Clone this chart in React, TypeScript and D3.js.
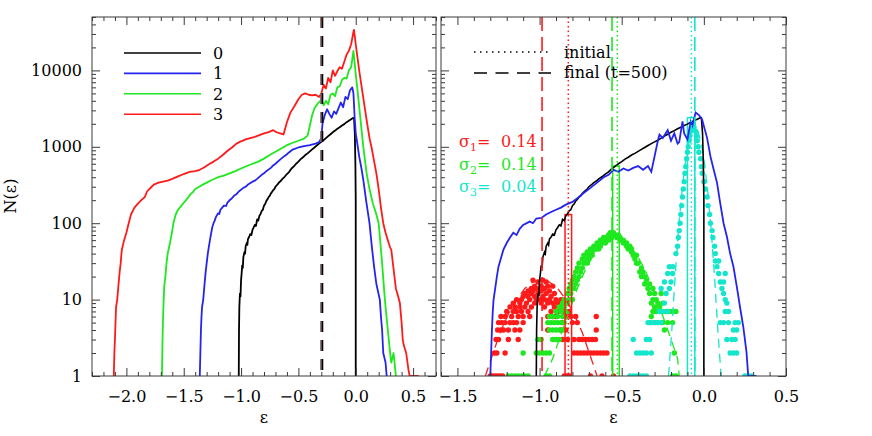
import React, { useEffect, useRef } from 'react';
import * as d3 from 'd3';

type Pt = [number, number];
type Row = [number, number[]];

// left panel: N(eps) for the four groups
const groupLabels = ['0', '1', '2', '3'];
const groupColors = ['#000000', '#2424f0', '#1ee81e', '#ff1a1a'];

const curve0: Pt[] = [
  [-1.02, 1], [-1.018, 4], [-1.015, 8], [-1.01, 12], [-1.005, 11], [-1.0, 18], [-0.995, 22], [-0.99, 28],
  [-0.985, 26], [-0.98, 36], [-0.97, 42], [-0.965, 40], [-0.96, 50], [-0.95, 55], [-0.945, 52], [-0.94, 62],
  [-0.93, 66], [-0.92, 72], [-0.91, 70], [-0.9, 82], [-0.89, 88], [-0.88, 95], [-0.87, 92], [-0.86, 112],
  [-0.85, 108], [-0.84, 125], [-0.83, 132], [-0.82, 145], [-0.81, 150], [-0.8, 170], [-0.79, 178], [-0.78, 195],
  [-0.77, 205], [-0.76, 220], [-0.75, 228], [-0.74, 245], [-0.72, 270], [-0.71, 280], [-0.7, 300], [-0.68, 325],
  [-0.67, 340], [-0.65, 362], [-0.64, 380], [-0.62, 405], [-0.6, 440], [-0.58, 470], [-0.56, 520], [-0.54, 555],
  [-0.52, 600], [-0.5, 640], [-0.48, 690], [-0.46, 730], [-0.44, 780], [-0.42, 820], [-0.4, 870], [-0.38, 925],
  [-0.36, 980], [-0.34, 1040], [-0.32, 1100], [-0.3, 1160], [-0.28, 1220], [-0.26, 1300], [-0.24, 1380],
  [-0.22, 1460], [-0.2, 1550], [-0.18, 1630], [-0.16, 1720], [-0.14, 1800], [-0.12, 1900], [-0.1, 1980],
  [-0.08, 2100], [-0.06, 2200], [-0.04, 2300], [-0.025, 2380], [-0.015, 2400], [-0.008, 1500], [-0.003, 600],
  [0.0, 200], [0.0, 1],
];

const curve1: Pt[] = [
  [-1.36, 1], [-1.355, 2], [-1.35, 4], [-1.345, 6], [-1.34, 8], [-1.33, 10], [-1.32, 15], [-1.31, 22], [-1.3, 30],
  [-1.29, 40], [-1.28, 50], [-1.27, 62], [-1.26, 75], [-1.25, 90], [-1.24, 100], [-1.23, 108], [-1.22, 120],
  [-1.2, 135], [-1.19, 132], [-1.18, 150], [-1.15, 170], [-1.13, 168], [-1.12, 185], [-1.1, 200], [-1.08, 212],
  [-1.06, 230], [-1.04, 240], [-1.02, 260], [-0.98, 290], [-0.96, 300], [-0.94, 320], [-0.9, 350], [-0.88, 360],
  [-0.86, 380], [-0.82, 430], [-0.8, 450], [-0.78, 480], [-0.74, 530], [-0.72, 570], [-0.7, 600], [-0.66, 680],
  [-0.62, 760], [-0.6, 800], [-0.58, 850], [-0.55, 920], [-0.5, 980], [-0.45, 1020], [-0.4, 1050], [-0.35, 1100],
  [-0.32, 1150], [-0.3, 1300], [-0.29, 2000], [-0.27, 2600], [-0.25, 3100], [-0.23, 2700], [-0.21, 2400],
  [-0.19, 2900], [-0.17, 2700], [-0.15, 3200], [-0.13, 3800], [-0.11, 3300], [-0.09, 4500], [-0.07, 4200],
  [-0.05, 5500], [-0.03, 6000], [-0.02, 5000], [-0.01, 2500], [0.0, 1500], [0.01, 1200], [0.03, 750], [0.05, 520],
  [0.066, 370], [0.09, 200], [0.12, 100], [0.14, 50], [0.16, 27], [0.18, 16], [0.21, 10], [0.22, 6], [0.23, 4],
  [0.24, 2], [0.26, 1.5], [0.27, 1],
];

const curve2: Pt[] = [
  [-1.69, 1], [-1.685, 3], [-1.68, 6], [-1.675, 10], [-1.67, 15], [-1.66, 20], [-1.65, 30], [-1.64, 40],
  [-1.62, 55], [-1.6, 80], [-1.59, 100], [-1.57, 130], [-1.55, 150], [-1.52, 170], [-1.5, 185], [-1.48, 200],
  [-1.44, 240], [-1.42, 255], [-1.4, 280], [-1.35, 310], [-1.3, 340], [-1.25, 370], [-1.2, 400], [-1.15, 420],
  [-1.1, 450], [-1.05, 480], [-1.0, 520], [-0.95, 560], [-0.9, 600], [-0.85, 640], [-0.8, 700], [-0.75, 780],
  [-0.7, 860], [-0.65, 950], [-0.6, 1050], [-0.55, 1130], [-0.5, 1200], [-0.45, 1280], [-0.42, 1400],
  [-0.4, 1900], [-0.38, 2600], [-0.36, 3200], [-0.33, 3700], [-0.3, 4100], [-0.28, 3500], [-0.26, 4000],
  [-0.24, 3600], [-0.22, 4800], [-0.2, 5000], [-0.18, 4600], [-0.16, 6000], [-0.14, 6200], [-0.12, 7500],
  [-0.1, 8000], [-0.08, 7800], [-0.06, 10000], [-0.04, 11000], [-0.03, 14000], [-0.02, 18000], [0.0, 9000],
  [0.02, 4700], [0.04, 2400], [0.066, 1000], [0.095, 450], [0.12, 280], [0.15, 180], [0.18, 130], [0.2, 100],
  [0.22, 45], [0.23, 30], [0.25, 12], [0.26, 8], [0.28, 4], [0.3, 2], [0.31, 1.5], [0.33, 2], [0.35, 1],
];

const curve3: Pt[] = [
  [-2.11, 1], [-2.105, 2], [-2.1, 3], [-2.095, 5], [-2.09, 8], [-2.08, 10], [-2.07, 15], [-2.06, 22], [-2.05, 30],
  [-2.04, 45], [-2.02, 60], [-2.0, 75], [-1.98, 100], [-1.96, 130], [-1.93, 160], [-1.9, 180], [-1.87, 200],
  [-1.84, 220], [-1.82, 260], [-1.8, 280], [-1.78, 300], [-1.76, 320], [-1.72, 340], [-1.68, 350], [-1.64, 360],
  [-1.6, 380], [-1.55, 410], [-1.5, 440], [-1.45, 470], [-1.4, 480], [-1.36, 500], [-1.32, 540], [-1.28, 590],
  [-1.24, 640], [-1.2, 700], [-1.16, 780], [-1.12, 880], [-1.08, 980], [-1.04, 1100], [-1.0, 1180], [-0.96, 1250],
  [-0.92, 1300], [-0.88, 1350], [-0.84, 1420], [-0.8, 1500], [-0.76, 1560], [-0.72, 1650], [-0.69, 1550],
  [-0.66, 1500], [-0.63, 1450], [-0.6, 2100], [-0.57, 2800], [-0.54, 3300], [-0.5, 4200], [-0.47, 4800],
  [-0.44, 5000], [-0.41, 4800], [-0.38, 4700], [-0.35, 4800], [-0.32, 4500], [-0.3, 5000], [-0.28, 6500],
  [-0.26, 5800], [-0.24, 8000], [-0.22, 7000], [-0.2, 10000], [-0.18, 8500], [-0.16, 9800], [-0.14, 11000],
  [-0.12, 10500], [-0.1, 13000], [-0.08, 16000], [-0.06, 18000], [-0.04, 22000], [-0.02, 32000],
  [-0.015, 34000], [0.0, 22000], [0.03, 10000], [0.06, 5000], [0.09, 2500], [0.12, 1300], [0.14, 950],
  [0.16, 650], [0.18, 450], [0.2, 280], [0.22, 160], [0.24, 100], [0.26, 75], [0.28, 60], [0.3, 48], [0.31, 45],
  [0.33, 25], [0.35, 14], [0.37, 11], [0.385, 9], [0.4, 5], [0.41, 3], [0.42, 2.5], [0.44, 2], [0.46, 1.2],
  [0.47, 1], [0.55, 1],
];

// final-mean markers in the left panel: [eps, colour index]
const leftFinal: Pt[] = [[-0.304, 3], [-0.299, 2], [-0.294, 1], [-0.289, 0]];

// right panel
const rightBlue: Pt[] = [
  [-1.3, 1], [-1.295, 2], [-1.29, 4], [-1.285, 7], [-1.28, 10], [-1.27, 14], [-1.26, 20], [-1.25, 27], [-1.24, 32],
  [-1.22, 45], [-1.2, 55], [-1.18, 65], [-1.16, 75], [-1.14, 70], [-1.12, 85], [-1.1, 95], [-1.06, 105],
  [-1.04, 100], [-1.02, 115], [-0.99, 117], [-0.96, 130], [-0.93, 140], [-0.9, 150], [-0.87, 160], [-0.84, 175],
  [-0.8, 190], [-0.76, 220], [-0.73, 250], [-0.69, 290], [-0.65, 340], [-0.61, 400], [-0.58, 430], [-0.55, 500],
  [-0.52, 470], [-0.49, 520], [-0.46, 490], [-0.43, 530], [-0.4, 560], [-0.37, 500], [-0.34, 560], [-0.32, 470],
  [-0.3, 750], [-0.28, 1200], [-0.27, 1450], [-0.25, 1300], [-0.22, 1650], [-0.2, 1200], [-0.18, 1500],
  [-0.16, 1100], [-0.15, 1150], [-0.13, 2150], [-0.12, 1500], [-0.1, 1250], [-0.08, 2150], [-0.07, 1900],
  [-0.05, 2800], [-0.03, 2600], [-0.01, 2250], [0.02, 1300], [0.04, 750], [0.06, 500], [0.08, 340], [0.1, 180],
  [0.12, 100], [0.14, 67], [0.16, 40], [0.18, 27], [0.2, 15], [0.21, 11], [0.22, 8], [0.24, 4.4], [0.25, 3],
  [0.26, 2], [0.27, 1], [0.32, 1],
];

const sigmaColors = ['#ff1a1a', '#1ee81e', '#14e6cc'];
const sigmaValues = ['0.14', '0.14', '0.04'];
const initialMeans = [-0.825, -0.527, -0.076];
const finalMeans = [-0.985, -0.559, -0.055];
// initial narrow histograms: [left edge, right edge, height]
const initialBoxes: [number, number, number][] = [[-0.845, -0.805, 130], [-0.555, -0.515, 560], [-0.1, -0.055, 2400]];

const redFit: Pt[] = [
  [-1.33, 1], [-1.29, 1.8], [-1.24, 3.7], [-1.19, 6.5], [-1.14, 10], [-1.09, 14], [-1.04, 17], [-0.99, 18],
  [-0.94, 17], [-0.89, 14], [-0.84, 10], [-0.79, 6.5], [-0.74, 3.7], [-0.69, 1.8], [-0.65, 1],
];
const greenFit: Pt[] = [
  [-0.97, 1], [-0.92, 1.7], [-0.87, 3.5], [-0.82, 7], [-0.77, 14], [-0.72, 25], [-0.67, 39], [-0.62, 54],
  [-0.58, 66], [-0.56, 70], [-0.51, 66], [-0.46, 54], [-0.41, 39], [-0.36, 25], [-0.31, 14], [-0.26, 7],
  [-0.21, 3.5], [-0.16, 1.7], [-0.15, 1],
];
const cyanFit: Pt[] = [
  [-0.215, 1], [-0.195, 4], [-0.175, 20], [-0.155, 79], [-0.135, 240], [-0.115, 585], [-0.095, 1090],
  [-0.075, 1580], [-0.055, 1800], [-0.035, 1580], [-0.015, 1090], [0.005, 585], [0.025, 240], [0.045, 79],
  [0.065, 20], [0.085, 4], [0.105, 1],
];

// final histograms drawn as dots: [count, eps values]
const redDots: Row[] = [
  [1, [-1.3, -1.285, -1.27, -1.255, -1.24, -1.225, -0.85, -0.835, -0.82, -0.69, -0.62, -0.55]],
  [2, [-1.275, -1.26, -1.21, -0.79, -0.77, -0.75, -0.73, -0.71, -0.69, -0.67, -0.65, -0.63, -0.61, -0.59]],
  [3, [-1.265, -1.25, -1.19, -1.13, -0.86, -0.83, -0.79, -0.76, -0.74, -0.72, -0.7, -0.68, -0.66]],
  [4, [-1.255, -1.235, -1.22, -1.19, -1.15, -1.12, -0.95, -0.87, -0.84, -0.655]],
  [5, [-1.25, -1.23, -1.21, -1.18, -1.16, -1.14, -1.1, -0.86, -0.8, -0.77]],
  [6, [-1.235, -1.21, -1.17, -1.13, -1.1, -1.06, -0.95, -0.92, -0.9, -0.84, -0.81, -0.78, -0.655]],
  [7, [-1.2, -1.16, -1.14, -1.11, -1.07, -0.93, -0.88, -0.85, -0.82]],
  [8, [-1.18, -1.15, -1.12, -1.09, -1.05, -0.97, -0.91, -0.87]],
  [9, [-1.16, -1.12, -1.08, -1.03, -0.99, -0.95, -0.92, -0.89]],
  [10, [-1.14, -1.11, -1.06, -1.02, -1.0, -0.97, -0.94, -0.9, -0.87, -0.85]],
  [11, [-1.1, -1.07, -1.03, -0.98, -0.93]],
  [12, [-1.09, -1.05, -1.01, -0.96, -0.91]],
  [13, [-1.07, -1.04, -0.99, -0.94]],
  [14, [-1.05, -1.02, -0.97]],
  [15, [-1.03, -0.99, -0.95, -0.92]],
  [17, [-1.01, -0.96]],
  [18, [-1.04, -0.98]],
];
const greenDots: Row[] = [
  [1, [-1.19, -1.17, -1.15, -1.13, -1.11, -1.09, -1.07, -0.96, -0.94, -0.19, -0.17]],
  [2, [-1.1, -1.02, -1.0, -0.98, -0.96, -0.94, -0.18]],
  [3, [-1.01, -0.99, -0.92, -0.9, -0.88]],
  [4, [-0.94, -0.92, -0.9, -0.88, -0.86, -0.24]],
  [5, [-0.95, -0.93, -0.91, -0.89, -0.87, -0.85, -0.33, -0.3, -0.28, -0.25, -0.22, -0.19]],
  [6, [-0.94, -0.92, -0.89, -0.86, -0.32]],
  [7, [-0.9, -0.87, -0.84, -0.31, -0.29, -0.26, -0.23, -0.21, -0.19, -0.17]],
  [8, [-0.88, -0.85, -0.3, -0.27]],
  [9, [-0.86, -0.83, -0.32, -0.28, -0.25]],
  [10, [-0.85, -0.82, -0.8, -0.31, -0.29]],
  [12, [-0.83, -0.81, -0.33, -0.3, -0.26]],
  [14, [-0.82, -0.79, -0.34, -0.31]],
  [16, [-0.81, -0.78, -0.36, -0.33]],
  [18, [-0.8, -0.77, -0.35]],
  [20, [-0.79, -0.76, -0.38, -0.36]],
  [23, [-0.78, -0.75, -0.39, -0.37]],
  [26, [-0.77, -0.74, -0.38]],
  [30, [-0.76, -0.73, -0.71, -0.41, -0.4]],
  [34, [-0.74, -0.72, -0.7, -0.42]],
  [38, [-0.73, -0.7, -0.68, -0.43, -0.41]],
  [42, [-0.71, -0.68, -0.44]],
  [46, [-0.69, -0.66, -0.64, -0.46, -0.44]],
  [50, [-0.67, -0.65, -0.63, -0.47, -0.45]],
  [55, [-0.65, -0.62, -0.6, -0.49, -0.47]],
  [60, [-0.63, -0.61, -0.58, -0.51, -0.49]],
  [65, [-0.61, -0.59, -0.56, -0.53, -0.51]],
  [70, [-0.58, -0.56, -0.54, -0.52]],
  [75, [-0.57, -0.55]],
];
const cyanDots: Row[] = [
  [1, [-0.45, -0.43, -0.41, -0.39, -0.37, -0.35, 0.25, 0.27, 0.29]],
  [2, [-0.41, -0.39, -0.37, -0.35, -0.32, 0.16, 0.18, 0.2]],
  [3, [-0.43, -0.35, -0.33, 0.14, 0.17, 0.19]],
  [4, [0.18, 0.2]],
  [5, [-0.34, -0.32, -0.3, -0.28, -0.26, 0.1, 0.12, 0.15, 0.19, 0.21]],
  [7, [-0.27, -0.25, -0.22, 0.13, 0.15]],
  [9, [-0.24, 0.14]],
  [10, [0.13]],
  [12, [-0.23, 0.12]],
  [14, [-0.26, -0.21, 0.11]],
  [17, [-0.24, -0.2, 0.12, 0.1]],
  [22, [-0.22, -0.19, 0.09, 0.13]],
  [27, [-0.21, -0.19, 0.08]],
  [32, [0.09, 0.07]],
  [40, [-0.17, 0.07]],
  [50, [-0.16, 0.065]],
  [65, [-0.155, 0.055]],
  [80, [-0.15, 0.05]],
  [100, [-0.145, 0.04]],
  [130, [-0.14, 0.035]],
  [170, [-0.135, 0.025]],
  [220, [-0.13, 0.02]],
  [280, [-0.125, 0.01]],
  [350, [-0.12, 0.0]],
  [450, [-0.115, -0.01]],
  [550, [-0.11, -0.015]],
  [700, [-0.105, -0.02]],
  [850, [-0.1, -0.03]],
  [1000, [-0.095, -0.035]],
  [1200, [-0.09, -0.04]],
  [1400, [-0.085, -0.045]],
  [1600, [-0.08, -0.05]],
  [1800, [-0.075, -0.06]],
  [2000, [-0.07, -0.065]],
];

const leftXTicks = [-2.0, -1.5, -1.0, -0.5, 0.0, 0.5];
const rightXTicks = [-1.5, -1.0, -0.5, 0.0, 0.5];
const yTicks = [1, 10, 100, 1000, 10000];

const FONT = '"DejaVu Serif", serif';
const AXIS = '#3a3a3a';

const App = () => {
  const ref = useRef<SVGSVGElement>(null);

  useEffect(() => {
    const svg = d3.select(ref.current);
    svg.selectAll('*').remove();

    const y = d3.scaleLog().domain([1, 50000]).range([376, 17]);
    const xL = d3.scaleLinear().domain([-2.3, 0.7]).range([92, 436]);
    const xR = d3.scaleLinear().domain([-1.6, 0.5]).range([441, 786]);

    const yMinor: number[] = [];
    yTicks.forEach((p) => d3.range(2, 10).forEach((m) => { if (p * m <= 50000) yMinor.push(p * m); }));

    const drawFrame = (x: d3.ScaleLinear<number, number>, majors: number[], showY: boolean) => {
      const [xa, xb] = x.range();
      const [yb, ya] = y.range();
      const [d0, d1] = x.domain();
      const minors = d3.range(Math.round(d0 * 10), Math.round(d1 * 10) + 1)
        .map((i) => i / 10)
        .filter((v) => !majors.some((m) => Math.abs(m - v) < 1e-6));
      const g = svg.append('g');
      const put = (tr: string, ax: any) => {
        const a = g.append('g').attr('transform', tr).call(ax);
        a.selectAll('.domain').remove();
        a.selectAll('line').attr('stroke', AXIS);
        a.selectAll('text').attr('font-family', FONT).attr('font-size', 16).attr('fill', '#000');
        a.attr('font-family', null).attr('font-size', null);
      };
      put(`translate(0,${yb})`, d3.axisBottom(x).tickValues(majors).tickSizeInner(-8).tickSizeOuter(0).tickPadding(15).tickFormat(d3.format('.1f')));
      put(`translate(0,${yb})`, d3.axisBottom(x).tickValues(minors).tickSizeInner(-4).tickSizeOuter(0).tickFormat(() => ''));
      put(`translate(0,${ya})`, d3.axisTop(x).tickValues(majors).tickSizeInner(-8).tickSizeOuter(0).tickFormat(() => ''));
      put(`translate(0,${ya})`, d3.axisTop(x).tickValues(minors).tickSizeInner(-4).tickSizeOuter(0).tickFormat(() => ''));
      put(`translate(${xa},0)`, d3.axisLeft(y).tickValues(yTicks).tickSizeInner(-8).tickSizeOuter(0).tickPadding(10)
        .tickFormat(showY ? (d3.format('d') as any) : () => ''));
      put(`translate(${xa},0)`, d3.axisLeft(y).tickValues(yMinor).tickSizeInner(-4).tickSizeOuter(0).tickFormat(() => ''));
      put(`translate(${xb},0)`, d3.axisRight(y).tickValues(yTicks).tickSizeInner(-8).tickSizeOuter(0).tickFormat(() => ''));
      put(`translate(${xb},0)`, d3.axisRight(y).tickValues(yMinor).tickSizeInner(-4).tickSizeOuter(0).tickFormat(() => ''));
      g.append('rect').attr('x', xa).attr('y', ya).attr('width', xb - xa).attr('height', yb - ya)
        .attr('fill', 'none').attr('stroke', AXIS).attr('stroke-width', 1);
      svg.append('text').attr('x', (xa + xb) / 2).attr('y', 423).attr('text-anchor', 'middle')
        .attr('font-family', FONT).attr('font-size', 16).text('ε');
    };

    const defs = svg.append('defs');
    const clip = (id: string, x: d3.ScaleLinear<number, number>) => {
      const [xa, xb] = x.range();
      defs.append('clipPath').attr('id', id).append('rect')
        .attr('x', xa).attr('y', 17).attr('width', xb - xa).attr('height', 359);
      return svg.append('g').attr('clip-path', `url(#${id})`);
    };

    // ---- left panel ----
    const gl = clip('clipL', xL);
    const lineL = d3.line<Pt>().x((d) => xL(d[0])).y((d) => y(d[1]));
    [curve0, curve1, curve2, curve3].forEach((c, i) => {
      gl.append('path').attr('d', lineL(c)).attr('fill', 'none')
        .attr('stroke', groupColors[i]).attr('stroke-width', 1.8).attr('stroke-linejoin', 'round');
    });
    leftFinal.forEach(([e, ci]) => {
      gl.append('line').attr('x1', xL(e)).attr('x2', xL(e)).attr('y1', 17).attr('y2', 376)
        .attr('stroke', groupColors[ci]).attr('stroke-width', 1.4).attr('stroke-dasharray', '11,8');
    });
    drawFrame(xL, leftXTicks, true);

    groupLabels.forEach((lab, i) => {
      const ly = 53 + i * 20.4;
      svg.append('line').attr('x1', 124).attr('x2', 201).attr('y1', ly).attr('y2', ly)
        .attr('stroke', groupColors[i]).attr('stroke-width', 1.6);
      svg.append('text').attr('x', 213).attr('y', ly + 6).attr('font-family', FONT).attr('font-size', 16).text(lab);
    });

    svg.append('text').attr('transform', 'translate(16,196) rotate(-90)').attr('text-anchor', 'middle')
      .attr('font-family', FONT).attr('font-size', 16).text('N(ε)');

    // ---- right panel ----
    const gr = clip('clipR', xR);
    const lineR = d3.line<Pt>().x((d) => xR(d[0])).y((d) => y(d[1]));
    [redDots, greenDots, cyanDots].forEach((rows, i) => {
      rows.forEach(([n, es]) => es.forEach((e) => {
        gr.append('circle').attr('cx', xR(e)).attr('cy', y(n)).attr('r', 2.7).attr('fill', sigmaColors[i]);
      }));
    });
    [redFit, greenFit, cyanFit].forEach((c, i) => {
      gr.append('path').attr('d', lineR(c)).attr('fill', 'none').attr('stroke', sigmaColors[i])
        .attr('stroke-width', 1.3).attr('stroke-dasharray', '9,6');
    });
    initialBoxes.forEach(([a, b, h], i) => {
      const pts: Pt[] = [[a, 1], [a, h], [b, h], [b, 1]];
      gr.append('path').attr('d', lineR(pts)).attr('fill', 'none').attr('stroke', sigmaColors[i]).attr('stroke-width', 1.5);
    });
    gr.append('path').attr('d', lineR(curve0)).attr('fill', 'none').attr('stroke', '#000').attr('stroke-width', 1.6);
    gr.append('path').attr('d', lineR(rightBlue)).attr('fill', 'none').attr('stroke', groupColors[1]).attr('stroke-width', 1.8);
    initialMeans.forEach((e, i) => {
      gr.append('line').attr('x1', xR(e)).attr('x2', xR(e)).attr('y1', 17).attr('y2', 376)
        .attr('stroke', sigmaColors[i]).attr('stroke-width', 1.5).attr('stroke-dasharray', '1.5,3');
    });
    finalMeans.forEach((e, i) => {
      gr.append('line').attr('x1', xR(e)).attr('x2', xR(e)).attr('y1', 17).attr('y2', 376)
        .attr('stroke', sigmaColors[i]).attr('stroke-width', 1.6).attr('stroke-dasharray', '14,6');
    });
    drawFrame(xR, rightXTicks, false);

    // legend
    svg.append('line').attr('x1', 474).attr('x2', 551).attr('y1', 52).attr('y2', 52)
      .attr('stroke', '#000').attr('stroke-width', 1.5).attr('stroke-dasharray', '1.5,4.5');
    svg.append('line').attr('x1', 474).attr('x2', 551).attr('y1', 73).attr('y2', 73)
      .attr('stroke', '#000').attr('stroke-width', 1.6).attr('stroke-dasharray', '13,8.5');
    svg.append('text').attr('x', 564).attr('y', 57.5).attr('font-family', FONT).attr('font-size', 16).text('initial');
    svg.append('text').attr('x', 564).attr('y', 78).attr('font-family', FONT).attr('font-size', 16).text('final (t=500)');

    sigmaValues.forEach((v, i) => {
      const ty = 147 + i * 22.5;
      const t = svg.append('text').attr('x', 459).attr('y', ty).attr('font-family', FONT)
        .attr('font-size', 16).attr('fill', sigmaColors[i]);
      t.append('tspan').text('σ');
      t.append('tspan').attr('dy', 4).attr('font-size', 11).text(String(i + 1));
      t.append('tspan').attr('dy', -4).text('=');
      t.append('tspan').attr('x', 501).text(v);
    });
  }, []);

  return <svg ref={ref} width={872} height={436} style={{ display: 'block', position: 'absolute', left: 0, top: 0, background: '#fff' }} />;
};

export default App;
